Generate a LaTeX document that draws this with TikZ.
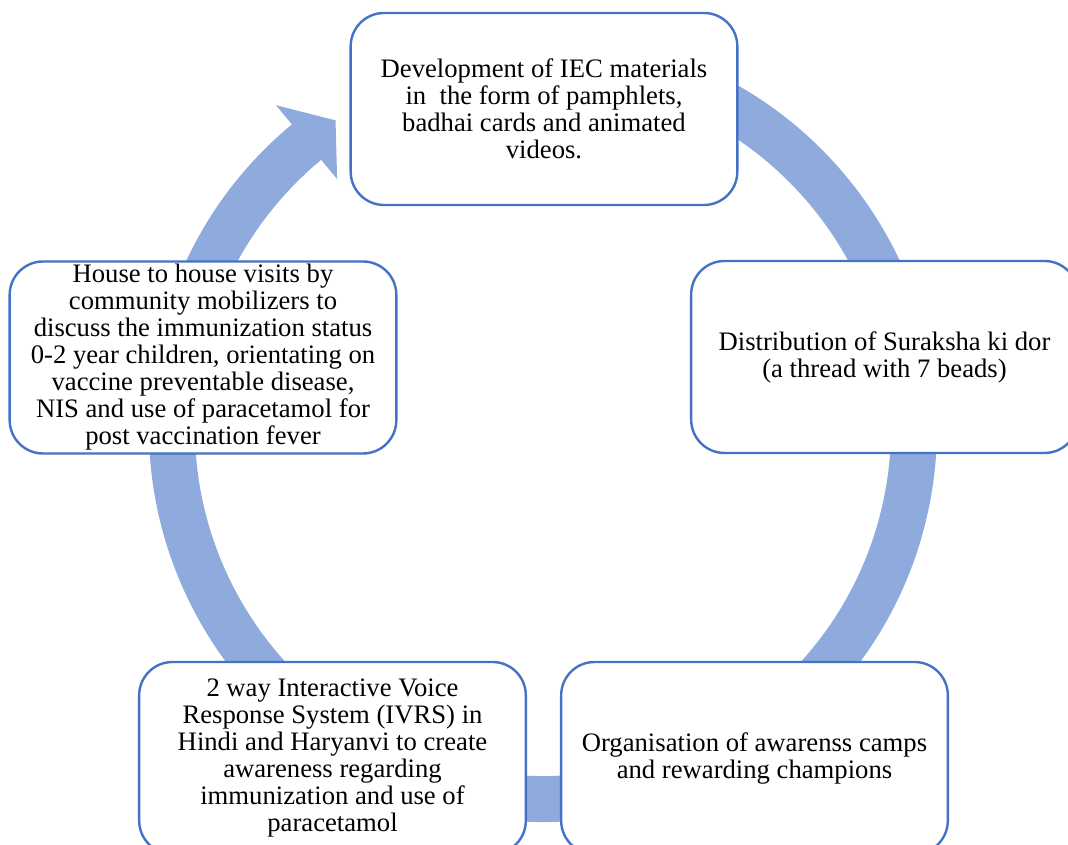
\documentclass[tikz,border=0pt]{standalone}
\usepackage{fontspec}
\setmainfont{Liberation Serif}
\usetikzlibrary{calc}
\definecolor{ringblue}{HTML}{8FAADC}
\definecolor{boxblue}{HTML}{4472C4}

\begin{document}
\begin{tikzpicture}[x=0.75pt,y=0.75pt,
    stage/.style={draw=boxblue,line width=1.8pt,fill=white,rounded corners=25pt,
      minimum width=290pt,minimum height=144pt,inner sep=0pt,align=center,
      font=\fontsize{20}{20.25}\selectfont}]
  \useasboundingbox (0,0) rectangle (1068,845);
  \clip (0,0) rectangle (1068,845);

  % the cycle arrow behind the boxes
  \coordinate (c) at (543,417);
  \draw[ringblue,line width=34.5pt] ($(c)+(80:371)$) arc[start angle=80,end angle=-231,radius=371];
  \fill[ringblue] ($(c)+(129.6:419)$) -- ($(c)+(124:371)$) -- ($(c)+(129.6:323)$) -- cycle;

  \node[stage] (iec)   at (544,736)   {Development of IEC materials\\in~ the form of pamphlets,\\badhai cards and animated\\videos.};
  \node[stage] (dor)   at (884.5,488) {Distribution of Suraksha ki dor\\(a thread with 7 beads)};
  \node[stage] (camps) at (754.5,87)  {Organisation of awarenss camps\\and rewarding champions};
  \node[stage] (ivrs)  at (332.5,87)  {2 way Interactive Voice\\Response System (IVRS) in\\Hindi and Haryanvi to create\\awareness regarding\\immunization and use of\\paracetamol};
  \node[stage] (visit) at (203,487.5) {House to house visits by\\community mobilizers to\\discuss the immunization status\\0-2 year children, orientating on\\vaccine preventable disease,\\NIS and use of paracetamol for\\post vaccination fever};
\end{tikzpicture}
\end{document}
